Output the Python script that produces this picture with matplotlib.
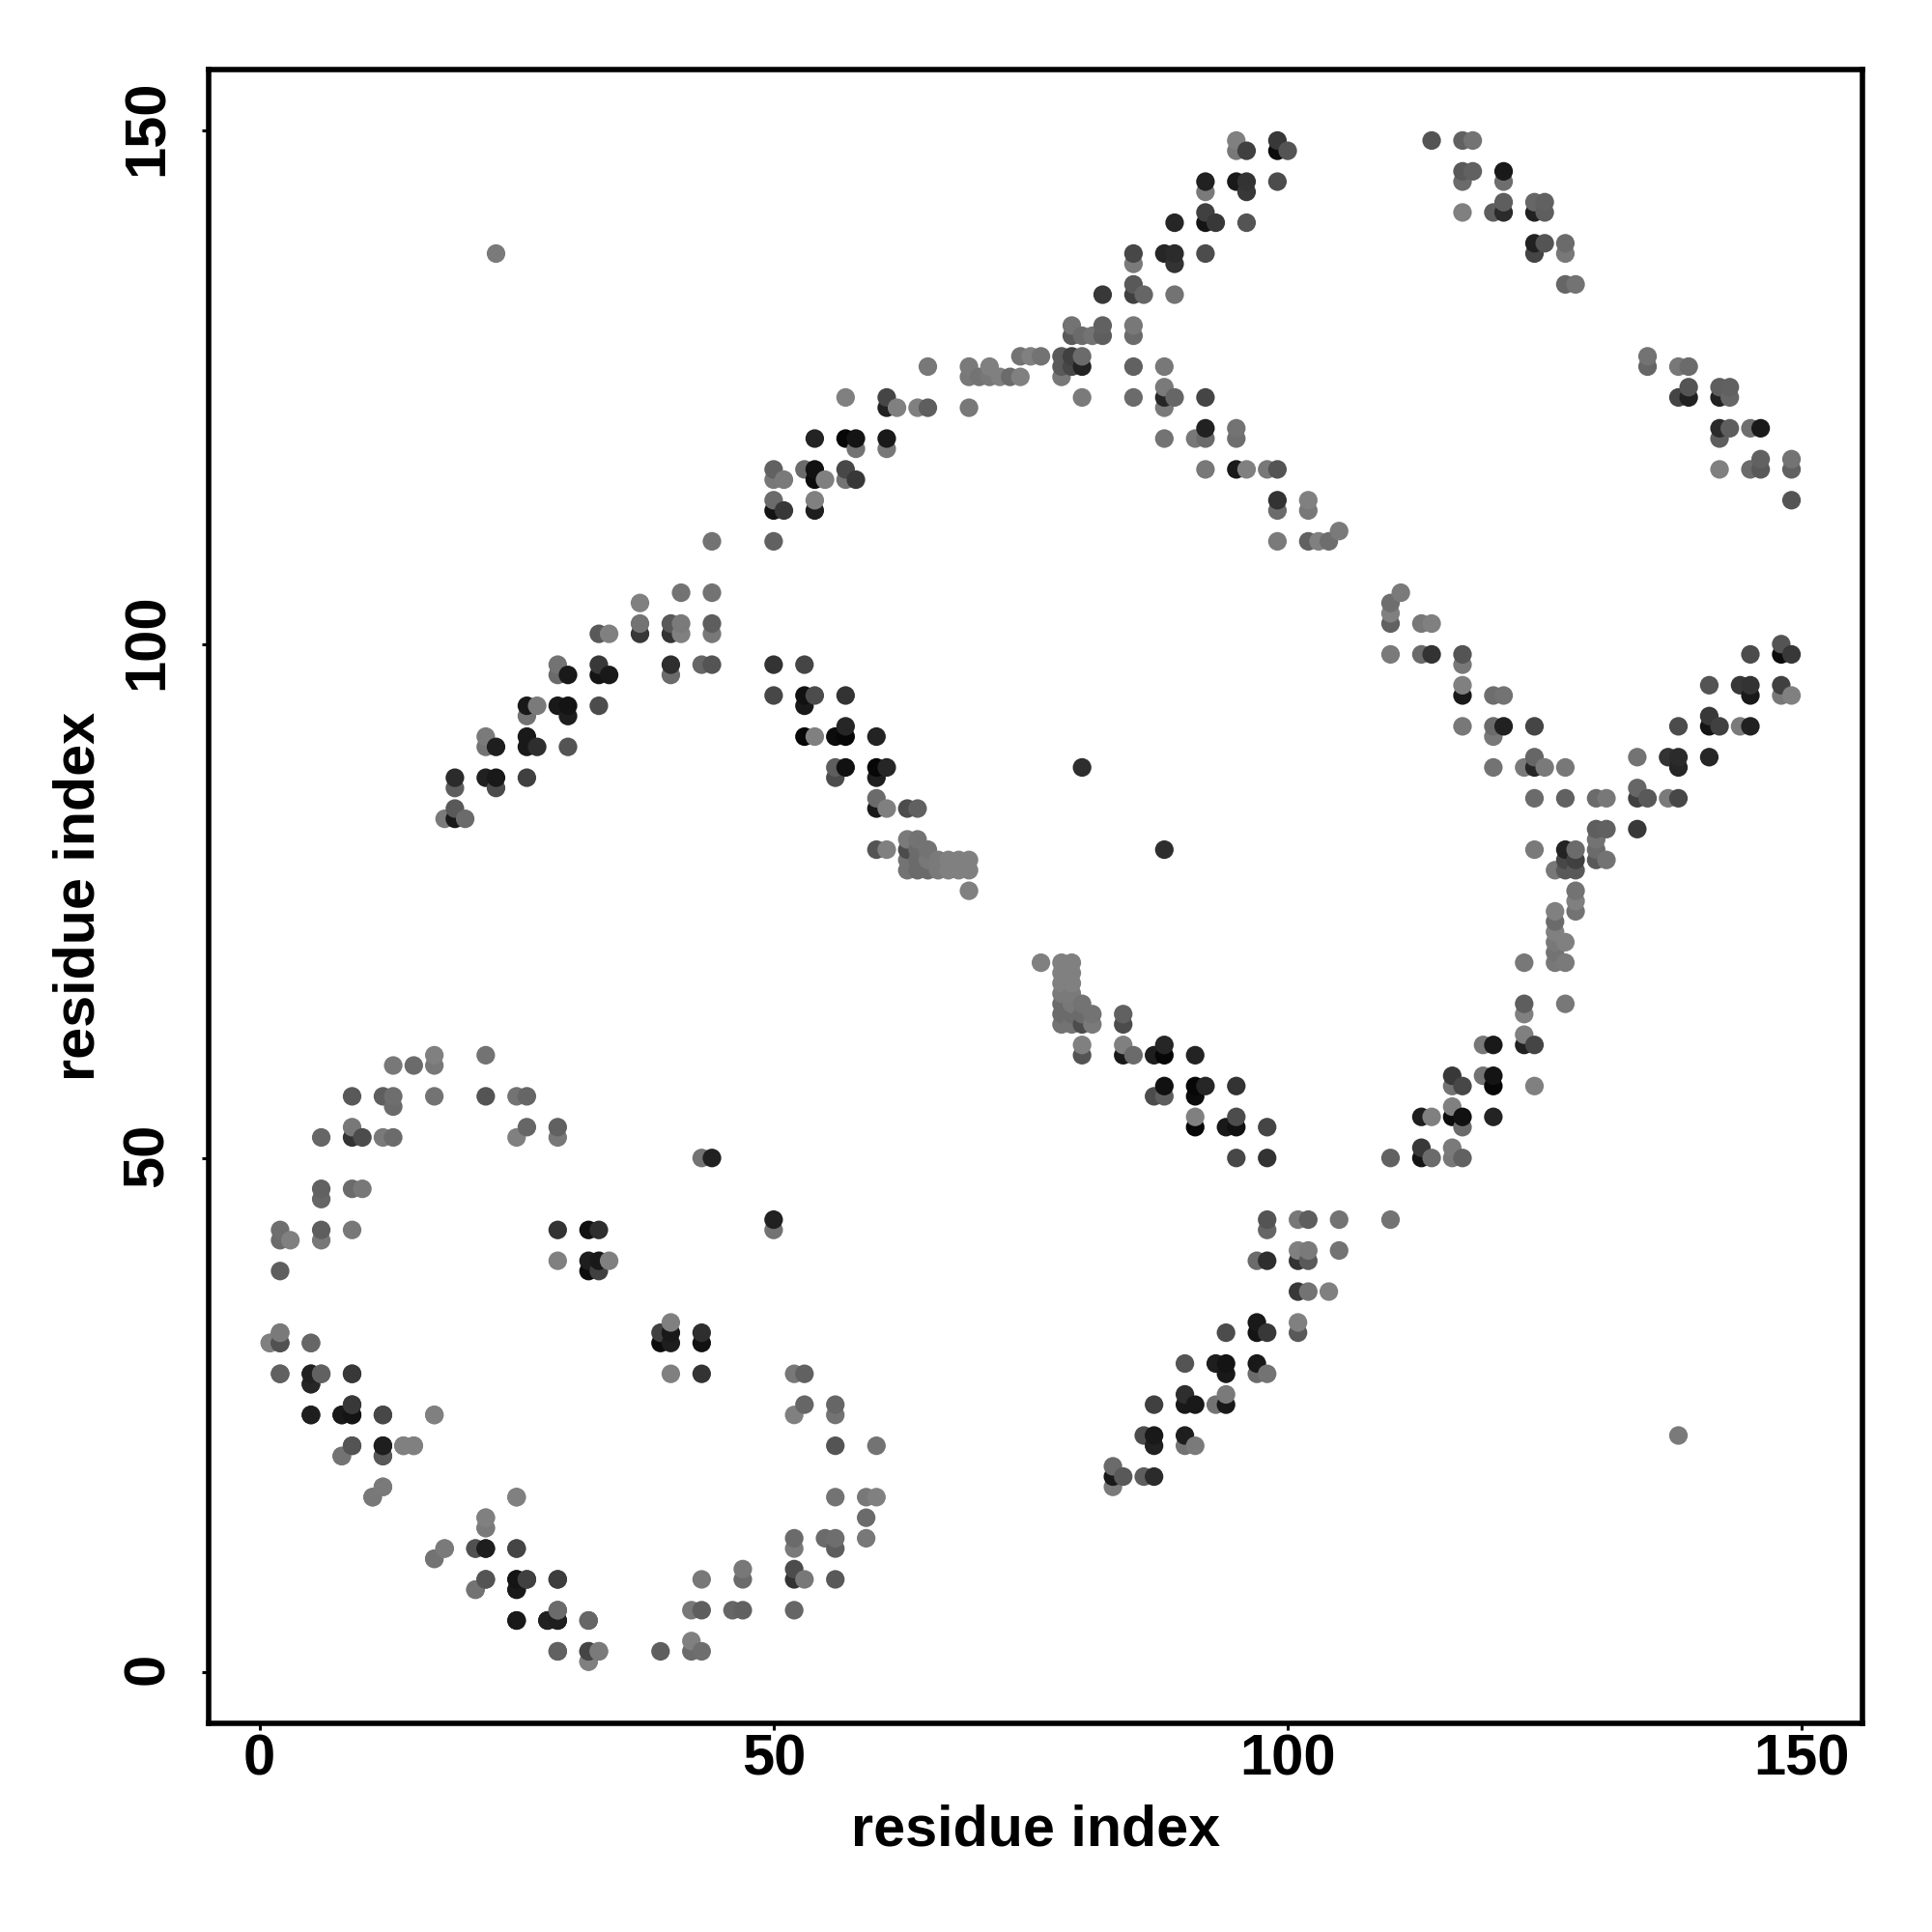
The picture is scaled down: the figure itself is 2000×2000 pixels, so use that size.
import numpy as np
import matplotlib
matplotlib.use("Agg")
import matplotlib.pyplot as plt
from matplotlib.transforms import ScaledTranslation

plt.rcParams['font.family'] = ['Liberation Sans', 'DejaVu Sans']
plt.rcParams['font.weight'] = 'bold'

# Contacts as (residue i, residue j, grey level), i > j.
# The map is symmetric so only one half is listed.
ring_contacts = [
    (1,32,.5),(2,33,.48),(2,32,.27),(5,32,.4),(2,29,.38),(5,29,.12),(5,28,.13),(6,29,.42),(9,29,.24),
    (5,25,.1),(8,25,.1),(9,25,.08),(9,26,.25),(12,25,.27),(17,25,.5),(9,22,.33),(8,21,.45),(12,22,.12),
    (12,21,.32),(14,22,.48),(15,22,.5),(12,18,.48),(11,17,.45),(25,17,.5),(22,15,.5),(22,14,.5),
    (18,12,.48),(17,11,.47),(21,12,.35),(22,12,.12),(25,12,.28),(22,9,.33),(21,8,.45),(25,9,.08),
    (25,8,.1),(26,9,.22),(29,9,.22),(29,6,.38),(25,5,.12),(28,5,.15),(29,5,.13),(32,5,.4),(29,2,.38),
    (32,2,.32),(33,2,.48),(32,1,.5),(39,2,.37),(42,3,.5),(42,2,.42),(43,2,.43),(43,9,.47),(42,6,.47),
    (43,6,.37),(46,6,.4),(47,6,.38),(47,10,.47),(47,9,.42),(52,6,.4),(52,10,.3),(52,9,.2),(53,9,.47),
    (56,9,.35),(52,13,.42),(52,12,.48),(55,13,.42),(56,13,.43),(56,12,.37),(59,13,.47),(59,15,.42),
    (56,17,.45),(59,17,.47),(60,17,.5),(56,22,.33),(60,22,.45),(52,25,.5),(53,26,.4),(56,26,.4),
    (56,25,.45),(52,29,.47),(53,29,.38),(40,29,.5),(43,29,.2),(39,33,.25),(39,32,.05),(40,34,.5),
    (40,33,.1),(40,32,.12),(43,33,.18),(43,32,.07),(50,44,.13),(50,43,.45),
]
chain_low = [
    (98,44,.33),(98,43,.4),(101,44,.47),(102,44,.37),(105,44,.45),(110,44,.45),(97,40,.42),(98,40,.18),
    (101,41,.5),(102,41,.48),(101,40,.2),(102,40,.35),(105,41,.45),(101,37,.22),(102,37,.45),(104,37,.5),
    (94,33,.3),(97,34,.1),(97,33,.08),(98,33,.22),(101,34,.5),(101,33,.35),(90,30,.33),(93,30,.12),
    (94,30,.08),(94,29,.1),(97,30,.1),(97,29,.42),(98,29,.45),(87,26,.25),(90,27,.18),(90,26,.1),
    (91,26,.1),(93,26,.45),(94,27,.48),(94,26,.1),(86,23,.3),(87,23,.1),(87,22,.13),(90,23,.12),
    (90,22,.45),(91,22,.48),(83,20,.42),(83,19,.1),(83,18,.48),(84,19,.35),(86,19,.37),(87,19,.17),
    (138,23,.48),
]
strand_mid = [
    (76,69,.5),(78,69,.5),(79,69,.5),(78,68,.5),(79,68,.5),(78,67,.5),(79,67,.5),(78,66,.48),(79,66,.48),
    (78,65,.42),(79,65,.47),(78,64,.42),(79,64,.42),(78,63,.45),(79,63,.45),(80,65,.45),(80,64,.42),
    (80,63,.3),(81,64,.45),(81,63,.48),(84,64,.38),(84,63,.3),(80,61,.5),(80,60,.33),(84,61,.5),
    (84,60,.1),(85,60,.42),(87,60,.12),(88,61,.15),(88,60,.03),(91,60,.14),(88,57,.07),(87,56,.3),
    (88,56,.37),(91,57,.03),(91,56,.05),(92,57,.15),(95,57,.2),(91,54,.5),(91,53,.03),(94,53,.1),
    (95,53,.07),(95,54,.3),(98,53,.27),(95,50,.28),(98,50,.2),(88,80,.18),
]
chain_mid = [
    (110,50,.38),(113,51,.22),(113,50,.08),(114,50,.42),(116,51,.48),(116,50,.47),(117,50,.38),(113,54,.12),
    (114,54,.5),(116,55,.5),(116,54,.05),(117,54,.07),(117,53,.42),(120,54,.14),(116,58,.22),(116,57,.45),
    (117,57,.28),(119,58,.45),(120,58,.08),(120,57,.03),(124,57,.5),(119,61,.47),(120,61,.1),(123,62,.5),
    (123,61,.13),(124,61,.27),(123,65,.37),(123,64,.5),(127,65,.47),(123,69,.47),(126,74,.5),(126,73,.42),
    (126,72,.5),(126,71,.47),(126,70,.45),(126,69,.47),(127,71,.5),(127,69,.48),(128,76,.45),(128,75,.5),
    (128,74,.45),
]
chain_high = [
    (124,80,.48),(127,80,.14),(128,80,.42),(127,79,.28),(128,79,.25),(126,78,.47),(127,78,.35),(128,78,.35),
    (130,82,.37),(131,82,.38),(134,82,.22),(130,81,.45),(130,80,.42),(130,79,.35),(131,79,.45),(130,85,.42),
    (131,85,.47),(134,86,.4),(134,85,.25),(135,85,.35),(137,85,.48),(138,85,.28),(134,89,.45),(137,89,.2),
    (138,89,.17),(138,88,.15),(141,89,.15),(138,92,.3),(141,93,.22),(141,92,.08),(142,92,.25),(144,92,.48),
    (145,92,.13),(141,96,.33),(144,96,.22),(145,96,.2),(145,95,.1),(148,96,.25),(148,95,.47),(149,95,.5),
    (145,99,.3),(148,100,.33),(148,99,.05),(149,99,.22),
]
strand_high = [
    (111,105,.48),(110,104,.43),(110,103,.5),(110,102,.38),(113,102,.47),(114,102,.5),(110,99,.48),(113,99,.42),
    (114,99,.2),(117,99,.33),(117,98,.47),(117,96,.5),(117,95,.1),(120,95,.43),(121,95,.45),(117,92,.47),
    (120,92,.42),(120,91,.47),(121,92,.13),(124,92,.27),(120,88,.45),(123,88,.48),(124,89,.4),(124,88,.15),
    (125,88,.48),(127,88,.47),(124,85,.42),(127,85,.38),
]
corner = [
    (135,128,.45),(135,127,.4),(138,127,.47),(139,127,.42),(139,125,.33),(138,124,.27),(139,124,.13),
    (142,125,.37),(143,125,.38),(142,124,.13),(143,124,.4),(142,121,.17),(143,121,.37),(142,120,.37),
    (145,121,.43),(146,121,.1),(142,117,.5),(145,117,.42),(146,118,.38),(146,117,.35),(149,118,.45),
    (149,117,.38),(149,114,.33),
]
tick_vals = [0, 50, 100, 150]

contacts = ring_contacts + chain_low + strand_mid + chain_mid + chain_high + strand_high + corner
arr = np.array(contacts)
x = np.concatenate([arr[:, 0], arr[:, 1]])
y = np.concatenate([arr[:, 1], arr[:, 0]])
grey = np.concatenate([arr[:, 2], arr[:, 2]])
# points were drawn column by column, bottom to top
order = np.lexsort((y, x))

fig = plt.figure(figsize=(10, 10), dpi=200)
ax = fig.add_axes([216/2000, 1 - 1783.7/2000, (1928-216)/2000, (1783.7-71.5)/2000])
ax.scatter(x[order], y[order], c=grey[order], cmap="gray", vmin=0, vmax=1,
           s=48, linewidths=0, clip_on=True)
ax.set_xlim(-4.95, 155.9)
ax.set_ylim(-4.98, 155.95)
ax.set_xticks(tick_vals)
ax.set_yticks(tick_vals)
ax.tick_params(axis='x', length=2.4, width=1.1, labelsize=21.5, pad=1.5)
ax.tick_params(axis='y', length=2.4, width=1.1, labelsize=21.5, pad=10.2)
plt.setp(ax.get_yticklabels(), rotation=90, va='center')
# rotated labels sit a little low with va='center'
nudge = ScaledTranslation(0, 3/200, fig.dpi_scale_trans)
for lab in ax.get_yticklabels():
    lab.set_transform(lab.get_transform() + nudge)
for side in ax.spines.values():
    side.set_linewidth(2.0)
ax.set_xlabel("residue index", fontsize=21.4, fontweight='bold')
ax.set_ylabel("residue index", fontsize=21.4, fontweight='bold')
ax.xaxis.set_label_coords(0.5, -0.049, transform=ax.transAxes)
ax.yaxis.set_label_coords(-0.062, 0.5, transform=ax.transAxes)

plt.savefig("out.png", dpi=200)
plt.close()
